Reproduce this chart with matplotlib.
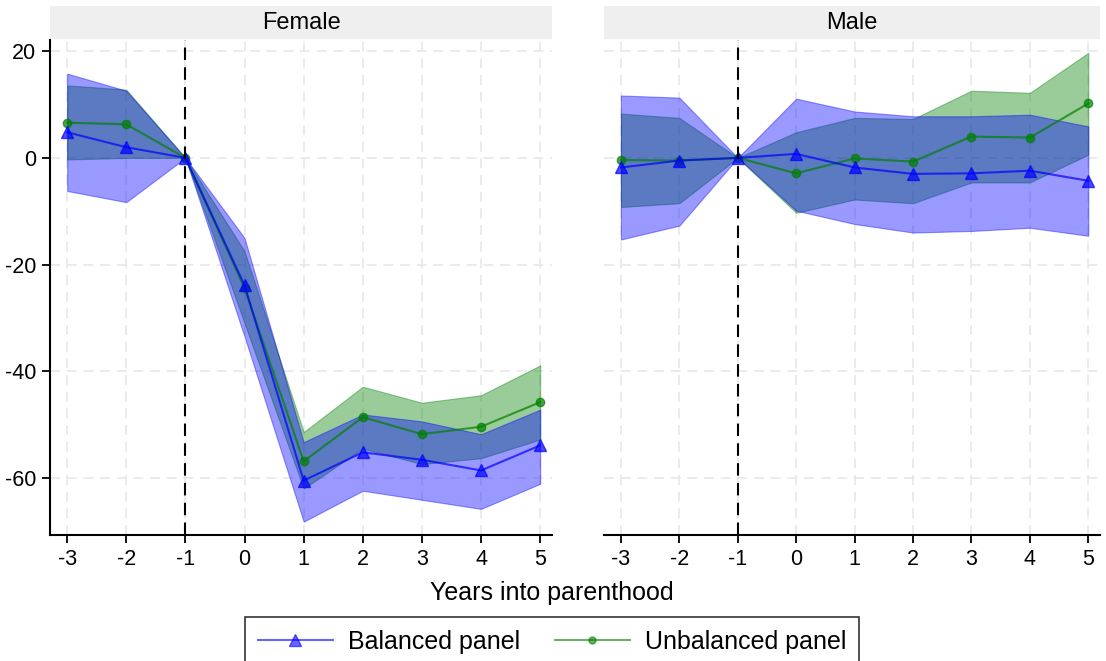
import matplotlib
matplotlib.use("Agg")
import matplotlib.pyplot as plt
from matplotlib.patches import Rectangle
from matplotlib.lines import Line2D

plt.rcParams["font.family"] = ["Liberation Sans", "DejaVu Sans"]

anos = [-3, -2, -1, 0, 1, 2, 3, 4, 5]

# Female
fem_bal = [4.8, 2.0, 0, -23.9, -60.5, -55.2, -56.6, -58.6, -53.9]
fem_bal_lo = [-6.2, -8.3, 0, -33.5, -68.2, -62.4, -64.1, -65.8, -61.1]
fem_bal_hi = [15.8, 12.6, 0, -15.0, -53.3, -48.1, -49.4, -51.8, -47.2]
fem_unb = [6.6, 6.3, 0, -24.4, -56.9, -48.6, -51.8, -50.4, -45.8]
fem_unb_lo = [-0.3, 0.0, 0, -31.0, -62.0, -54.5, -57.4, -56.3, -52.8]
fem_unb_hi = [13.6, 12.8, 0, -17.5, -51.4, -42.9, -45.9, -44.5, -38.9]

# Male
mal_bal = [-1.8, -0.5, 0, 0.75, -1.8, -3.0, -2.9, -2.4, -4.3]
mal_bal_lo = [-15.3, -12.7, 0, -9.9, -12.4, -14.0, -13.7, -13.1, -14.6]
mal_bal_hi = [11.7, 11.3, 0, 11.1, 8.7, 7.8, 7.8, 8.1, 5.9]
mal_unb = [-0.4, -0.5, 0, -2.9, -0.1, -0.7, 4.0, 3.8, 10.2]
mal_unb_lo = [-9.2, -8.5, 0, -10.3, -7.8, -8.5, -4.6, -4.6, 0.6]
mal_unb_hi = [8.3, 7.5, 0, 4.8, 7.5, 7.3, 12.6, 12.2, 19.7]

paneles = [
    ("Female", fem_bal, fem_bal_lo, fem_bal_hi, fem_unb, fem_unb_lo, fem_unb_hi),
    ("Male", mal_bal, mal_bal_lo, mal_bal_hi, mal_unb, mal_unb_lo, mal_unb_hi),
]

AZUL = (0, 0, 1)
VERDE = (0, 0.5, 0)

W, H = 1106, 661
fig = plt.figure(figsize=(W / 100, H / 100), dpi=100)

posiciones = [(50, 552), (604, 1100)]
y_abajo, y_arriba = 535, 40

for i, (titulo, bal, bal_lo, bal_hi, unb, unb_lo, unb_hi) in enumerate(paneles):
    x0, x1 = posiciones[i]
    ax = fig.add_axes([x0 / W, 1 - y_abajo / H, (x1 - x0) / W, (y_abajo - y_arriba) / H])

    ax.fill_between(anos, unb_lo, unb_hi, color=VERDE, alpha=0.4, lw=0.8, zorder=2)
    ax.fill_between(anos, bal_lo, bal_hi, color=AZUL, alpha=0.4, lw=0.8, zorder=3)
    ax.plot(anos, unb, color=VERDE, alpha=0.7, lw=1.5, marker="o", ms=6, zorder=4)
    ax.plot(anos, bal, color=AZUL, alpha=0.7, lw=1.5, marker="^", ms=8, zorder=5)
    ax.axvline(-1, color="black", lw=1.5, ls=(0, (6, 3.5)), zorder=6)

    ax.set_xlim(-3.29, 5.2)
    ax.set_ylim(-70.7, 22.1)
    ax.set_xticks(anos)
    ax.set_yticks([-60, -40, -20, 0, 20])
    ax.set_xticklabels([str(a) for a in anos])
    ax.grid(True, color="#e8e8e8", lw=1.2, ls=(0, (6, 4)), zorder=0)
    ax.set_axisbelow(True)
    for lado in ["top", "right"]:
        ax.spines[lado].set_visible(False)
    ax.spines["bottom"].set_linewidth(1.5)
    ax.tick_params(axis="x", direction="out", length=6, width=1.3, labelsize=15.5, pad=4)
    if i == 0:
        ax.spines["left"].set_linewidth(1.5)
        ax.set_yticklabels(["-60", "-40", "-20", "0", "20"])
        ax.tick_params(axis="y", direction="out", length=6, width=1.3, labelsize=15.5, pad=4)
    else:
        ax.spines["left"].set_visible(False)
        ax.tick_params(axis="y", length=0, labelleft=False)

    # franja del titulo
    tira = Rectangle((x0 / W, 1 - 39 / H), (x1 - x0) / W, 33 / H,
                     transform=fig.transFigure, facecolor="#efefef", edgecolor="none")
    fig.patches.append(tira)
    fig.text((x0 + x1) / 2 / W, 1 - 23 / H, titulo, ha="center", va="center", fontsize=17)

fig.text(552 / W, 1 - 593 / H, "Years into parenthood", ha="center", va="center", fontsize=18)

handles = [
    Line2D([], [], color=AZUL, alpha=0.6, lw=1.5, marker="^", ms=8),
    Line2D([], [], color=VERDE, alpha=0.6, lw=1.5, marker="o", ms=5),
]
leg = fig.legend(handles, ["Balanced panel", "Unbalanced panel"], loc="upper center",
                 bbox_to_anchor=(552 / W, 1 - 617 / H), ncol=2, fontsize=18,
                 frameon=True, fancybox=False, edgecolor="black", handlelength=3.0,
                 columnspacing=1.4, borderpad=0.5, handletextpad=0.6, borderaxespad=0)
leg.get_frame().set_linewidth(1.2)

fig.savefig("out.png", dpi=100)
